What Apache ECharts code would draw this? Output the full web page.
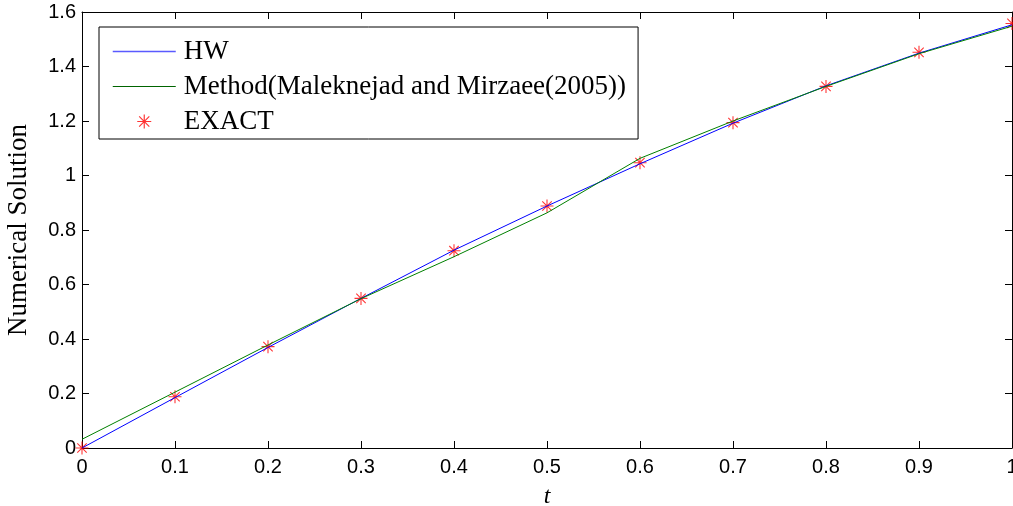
<!DOCTYPE html>
<html>
<head>
<meta charset="utf-8">
<script src="https://cdn.jsdelivr.net/npm/echarts@6/dist/echarts.min.js"></script>
<style>
  html, body { margin: 0; padding: 0; background: #fff; }
  #chart { width: 1013px; height: 506px; }
</style>
</head>
<body>
<div id="chart"></div>
<script>
// t values
const tVals = [0, 0.1, 0.2, 0.3, 0.4, 0.5, 0.6, 0.7, 0.8, 0.9, 1.0]
// HW approximation
const hwVals = [0, 0.185, 0.369, 0.549, 0.726, 0.888, 1.043, 1.192, 1.329, 1.449, 1.553]
// Maleknejad and Mirzaee (2005)
const mmVals = [0.032, 0.205, 0.378, 0.548, 0.702, 0.863, 1.063, 1.2, 1.327, 1.447, 1.548]
// exact solution
const exactVals = [0, 0.188, 0.372, 0.549, 0.724, 0.888, 1.047, 1.194, 1.327, 1.452, 1.558]

const names = ['HW', 'Method(Maleknejad and Mirzaee(2005))', 'EXACT']

// asterisk like matlab '*'
const asterisk = 'path://M11,0L13,0L13,24L11,24Z M0,11L24,11L24,13L0,13Z ' +
  'M2.6,4L4,2.6L21.4,20L20,21.4Z M20,2.6L21.4,4L4,21.4L2.6,20Z'

function pairs(ys) {
  return tVals.map((t, i) => [t, ys[i]])
}

const chart = echarts.init(document.getElementById('chart'), null, {renderer: 'canvas'})

const tickStyle = {show: true, inside: true, length: 7, lineStyle: {color: '#000', width: 1}}
const lineStyle = {show: true, onZero: false, lineStyle: {color: '#000', width: 1}}

const option = {
  animation: false,
  backgroundColor: '#fff',
  grid: {left: 82, right: 1, top: 12, bottom: 58, containLabel: false, outerBoundsMode: 'none'},
  legend: {
    orient: 'vertical',
    left: 99,
    top: 27,
    data: [
      // hide the symbol dot, keep only the line
      {name: names[0], itemStyle: {opacity: 0}, lineStyle: {color: '#5a5aff', width: 1.5}},
      {name: names[1], itemStyle: {opacity: 0}, lineStyle: {color: '#006400', width: 1}},
      {name: names[2]}
    ],
    itemWidth: 63,
    itemHeight: 14,
    itemGap: 8,
    padding: [11, 12, 4, 13],
    borderColor: '#000',
    borderWidth: 1,
    backgroundColor: '#fff',
    textStyle: {fontFamily: 'Liberation Serif', fontSize: 27, lineHeight: 20, color: '#000', padding: [0, 0, 0, 3]}
  },
  xAxis: [
    {
      type: 'value', min: 0, max: 1, interval: 0.1,
      name: 't', nameLocation: 'middle', nameGap: 37,
      nameTextStyle: {fontFamily: 'Liberation Serif', fontStyle: 'italic', fontSize: 24, color: '#000'},
      axisLine: lineStyle, axisTick: tickStyle, splitLine: {show: false},
      axisLabel: {fontFamily: 'Liberation Sans', fontSize: 20, color: '#000', margin: 9}
    },
    {
      type: 'value', position: 'top', min: 0, max: 1, interval: 0.1,
      axisLine: lineStyle, axisTick: tickStyle, splitLine: {show: false},
      axisLabel: {show: false}
    }
  ],
  yAxis: [
    {
      type: 'value', min: 0, max: 1.6, interval: 0.2,
      name: 'Numerical Solution', nameLocation: 'middle', nameGap: 50,
      nameTextStyle: {fontFamily: 'Liberation Serif', fontSize: 27, color: '#000'},
      axisLine: lineStyle, axisTick: tickStyle, splitLine: {show: false},
      axisLabel: {fontFamily: 'Liberation Sans', fontSize: 20, color: '#000', margin: 6}
    },
    {
      type: 'value', position: 'right', min: 0, max: 1.6, interval: 0.2,
      axisLine: lineStyle, axisTick: tickStyle, splitLine: {show: false},
      axisLabel: {show: false}
    }
  ],
  series: [
    {
      name: names[0], type: 'line', data: pairs(hwVals),
      symbol: 'none', lineStyle: {color: '#0000ff', width: 1}, itemStyle: {color: '#0000ff'}
    },
    {
      name: names[1], type: 'line', data: pairs(mmVals),
      symbol: 'none', lineStyle: {color: '#008000', width: 1}, itemStyle: {color: '#008000'}
    },
    {
      name: names[2], type: 'scatter', data: pairs(exactVals),
      symbol: asterisk, symbolSize: 13, itemStyle: {color: '#ff0000'}
    }
  ]
}

chart.setOption(option)
</script>
</body>
</html>
